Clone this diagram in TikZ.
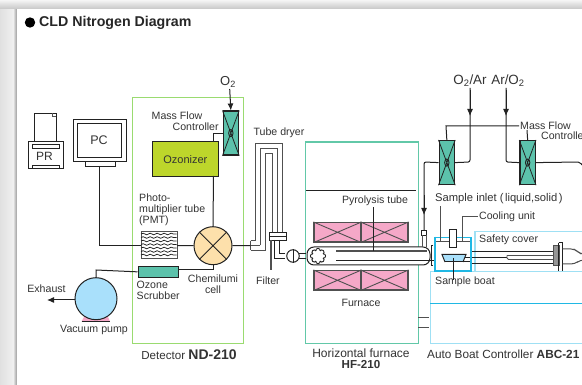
\documentclass[tikz,border=0pt]{standalone}
\usepackage{fontspec}
\setmainfont{Liberation Sans}
\usetikzlibrary{arrows.meta,decorations.pathmorphing,calc}
\definecolor{tealf}{HTML}{5CC2AB}
\definecolor{ozf}{HTML}{BDD62B}
\definecolor{cellf}{HTML}{FDE0AB}
\definecolor{skyf}{HTML}{A9E0FB}
\definecolor{pinkf}{HTML}{F5A8C8}
\definecolor{dline}{HTML}{222222}
\definecolor{gline}{HTML}{505050}
\definecolor{greenb}{HTML}{9ADB70}
\definecolor{tealb}{HTML}{62C8A8}
\definecolor{lblue}{HTML}{9FE0F4}
\definecolor{mblue}{HTML}{20B8E4}
\definecolor{txt}{HTML}{333333}
\tikzset{
 wire/.style={draw=dline,line width=1pt},
 wireg/.style={draw=gline,line width=1pt},
 arr/.style={wire,-{Latex[length=7pt,width=6pt]}},
 lab/.style={font=\fontsize{10.6}{10.8}\selectfont,text=txt,inner sep=0pt,align=center},
 labl/.style={lab,anchor=west,align=left},
 boxd/.style={draw=dline,line width=1pt,fill=white,inner sep=0pt},
 mfcbox/.style={draw=dline,line width=1.2pt,fill=tealf,minimum width=15.5pt,minimum height=44pt,inner sep=0pt},
 heatbox/.style={draw=gline,line width=1.2pt,fill=pinkf,minimum width=47pt,minimum height=19.5pt,inner sep=0pt},
}
\newcommand{\valvecross}[1]{%
 \draw[dline,line width=0.8pt] (#1.north west)--(#1.south east) (#1.north east)--(#1.south west);
 \draw[dline,line width=0.9pt] (#1.center) ellipse (2.2pt and 3.6pt);}
\newcommand{\heatcross}[1]{%
 \draw[gline,line width=0.9pt] (#1.north west)--(#1.south east) (#1.north east)--(#1.south west);}
\begin{document}
\begin{tikzpicture}[x=1pt,y=-1pt]
\useasboundingbox (0,0) rectangle (582,385);
% page background
\fill[white] (0,0) rectangle (582,385);
\shade[left color=white!88!black,right color=white!94!black] (0,0) rectangle (13,385);
\shade[left color=white!94!black,right color=white!60!black] (13,9) rectangle (17,385);
\shade[top color=white!96!black,bottom color=white!78!black] (0,0) rectangle (582,9);
\fill[white] (17,9) rectangle (582,385);
% title
\fill[black] (30,22.5) circle (5.2);
\node[anchor=west,inner sep=0pt,font=\fontsize{14.2}{15}\selectfont\bfseries,text=black!85] (title) at (39,23) {CLD Nitrogen Diagram};
% frames
\node[draw=greenb,line width=1.4pt,minimum width=111pt,minimum height=246pt,inner sep=0pt,anchor=north west] (det) at (132,97) {};
\node[draw=tealb,line width=1.4pt,minimum width=113pt,minimum height=201.5pt,inner sep=0pt,anchor=north west] (furn) at (304.5,141.5) {};
\draw[dline,line width=0.9pt] (306,190)--(416,190);
% PR
\node[boxd,minimum width=21.5pt,minimum height=29pt,anchor=north west] (paper) at (34,113.5) {};
\node[boxd,minimum width=35pt,minimum height=27pt,anchor=north west] (pr) at (27.5,141.5) {};
\node[lab,font=\fontsize{12}{13}\selectfont] (prt) at (44.5,156.5) {PR};
\node[boxd,minimum width=27pt,minimum height=3.5pt,anchor=north west] (prs1) at (31.5,144.5) {};
\node[boxd,minimum width=27pt,minimum height=3.5pt,anchor=north west] (prs2) at (31.5,165) {};
\draw[gline,line width=0.6pt] (52.5,113.5)--(52.5,116.5)--(55.5,116.5);
% PC
\node[boxd,minimum width=30pt,minimum height=5.5pt,anchor=north west] (pcb) at (84.5,161) {};
\node[boxd,minimum width=52.5pt,minimum height=42pt,anchor=north west] (pc) at (73,119) {};
\node[boxd,minimum width=44pt,minimum height=34pt,anchor=north west] (pci) at (77,123.5) {};
\node[lab,font=\fontsize{12.5}{14}\selectfont] (pct) at (99,140) {PC};
% ozonizer
\node[draw=dline,line width=1.2pt,fill=ozf,minimum width=65.5pt,minimum height=35pt,inner sep=0pt,anchor=north west,font=\fontsize{11}{12}\selectfont,text=txt] (oz) at (152,141) {Ozonizer};
% MFC detector
\node[mfcbox,anchor=north west] (m0) at (222.5,110.5) {};
\valvecross{m0}
\node[lab,font=\fontsize{13}{14}\selectfont] (o2) at (228,82) {O\textsubscript{2}};
\coordinate (o2b) at (229.7,89);
\draw[arr] (o2b)--(m0.north);
\draw[wire] (213.5,141)--(213.5,133.5)--(222.5,133.5);
\node[labl] (mfl1) at (151.5,116) {Mass Flow};
\node[labl] (mfl2) at (172.5,126.5) {Controller};
% cell
\node[circle,draw=dline,line width=1pt,fill=cellf,minimum size=38pt,inner sep=0pt] (cell) at (213,245.7) {};
\draw[dline,line width=0.9pt] (cell.north west)--(cell.south east) (cell.north east)--(cell.south west);
\draw[wire] (213.5,176)--(cell.north);
% PMT
\node[draw=gline,line width=1.3pt,fill=white,minimum width=36.5pt,minimum height=27.5pt,inner sep=0pt,anchor=north west] (pmt) at (140.5,230.7) {};
\foreach \yy in {234,237.5,241,244.5,248,251.5,255}{
 \draw[dline,line width=0.75pt,decorate,decoration={snake,amplitude=0.8pt,segment length=7pt}] (141,\yy)--(176.5,\yy);}
\draw[wire] (99.5,166)--(99.5,245.5)--(140.5,245.5);
\draw[wire] (177,245.5)--(cell.west);
\node[labl,align=left] (pmtl) at (139,210) {Photo-\\multiplier tube\\(PMT)};
% scrubber
\node[draw=dline,line width=1pt,fill=tealf,minimum width=40pt,minimum height=11.3pt,inner sep=0pt,anchor=north west] (scr) at (137.5,265.7) {};
\draw[wire] (213.5,264.7)--(213.5,270)--(177.5,270);
\node[labl] (scrl) at (136.5,290.5) {Ozone\\Scrubber};
\node[lab] (celll) at (213,284) {Chemilumi\\cell};
% pump
\fill[pinkf] (84,317)--(108,317)--(110,321.5)--(81.5,321.5)--cycle;
\draw[dline,line width=0.9pt] (81.5,321.5)--(110,321.5);
\node[circle,draw=dline,line width=1pt,fill=skyf,minimum size=42pt,inner sep=0pt] (pump) at (96,298.7) {};
\draw[wire] (scr.west)--(96,270)--(pump.north);
\coordinate (exh) at (47,300);
\draw[arr] (75,300)--(exh);
\node[lab] (exl) at (46.5,288.5) {Exhaust};
\node[lab] (vpl) at (94,329.5) {Vacuum pump};
\node[lab,font=\fontsize{11.6}{12}\selectfont] (detl) at (189,354.5) {Detector {\fontsize{14}{15}\selectfont\bfseries ND-210}};
% dryer
\node[lab] (tdl) at (279,133) {Tube dryer};
\draw[gline,line width=1pt] (250.5,240.7)--(255,240.7)--(255,143.5)--(282,143.5)--(282,232);
\draw[gline,line width=1pt] (260,245.5)--(260,148.5)--(277,148.5)--(277,232);
\draw[gline,line width=1pt] (250.5,250.5)--(265,250.5)--(265,153.5)--(272,153.5)--(272,232);
\draw[gline,line width=1pt] (250.5,240.7)--(250.5,250.5);
\draw[wire] (cell.east)--(250.5,245.5);
\draw[gline,line width=1pt] (250.5,245.5)--(260,245.5);
\node[draw=dline,line width=1pt,fill=white,minimum width=16.5pt,minimum height=8pt,inner sep=0pt,anchor=north west] (filt) at (269,232) {};
\draw[dline,line width=0.8pt] (filt.west)--(filt.east);
\draw[gline,line width=1.1pt] (271,240)--(271,270);
\node[lab] (fil) at (268,281) {Filter};
% tube in furnace
\draw[dline,line width=1pt] (274.5,240)--(274.5,258.5)--(285,258.5);
\draw[dline,line width=1pt] (279.5,240)--(279.5,253.5)--(285,253.5);
\node[circle,draw=dline,line width=1pt,fill=white,minimum size=12.5pt,inner sep=0pt] (bulb) at (293,256) {};
\draw[dline,line width=0.8pt] (bulb.north)--(bulb.south);
\draw[dline,line width=1pt] (299,253.5)--(306,253.5) (299,258.5)--(306,258.5);
\draw[dline,line width=1pt,fill=white,rounded corners=7pt] (307,247)--(430,247)--(430,265)--(307,265)--cycle;
\foreach \a in {0,45,...,315}{\draw[dline,line width=0.9pt] (318,256)++(\a:5.3) circle (2.3);}
\fill[white] (318,256) circle (5.6);
\foreach \a in {0,45,...,315}{\fill[white] (318,256)++(\a:4.6) circle (1.7);}
\draw[gline,line width=1.2pt] (336,251)--(427,251);
\draw[dline,line width=1pt] (336,260.5)--(436,260.5);
% heaters
\foreach \nm/\xx/\yy in {h1/337.5/232.3,h2/384.5/232.3,h3/337.5/280.3,h4/384.5/280.3}{
 \node[heatbox] (\nm) at (\xx,\yy) {};
 \heatcross{\nm}
}
\node[lab] (pyl) at (375,200.5) {Pyrolysis tube};
\draw[dline,line width=1pt] (373,207.5)--(373,251);
\node[lab] (fnl) at (361,302.5) {Furnace};
\node[lab,font=\fontsize{12}{13}\selectfont] (hfl) at (361,353.5) {Horizontal furnace};
\node[lab,font=\fontsize{11.6}{12}\selectfont\bfseries] (hfm) at (361,365) {HF-210};
% auto boat controller frames
\node[draw=lblue,line width=1.4pt,fill=white,minimum width=110pt,minimum height=40.3pt,inner sep=0pt,anchor=north west] (safe) at (474.3,230.7) {};
\node[labl] (sfl) at (479,240) {Safety cover};
\draw[dline,line width=1pt] (471,251.7)--(553,251.7);
\draw[dline,line width=1pt] (471,257.3)--(507,257.3);
\draw[dline,line width=1pt] (471,264)--(553,264);
\draw[gline,line width=0.8pt,rounded corners=1.5pt] (507,255.5)--(553,255.5) (507,255.5)--(507,259.5)--(553,259.5);
\node[draw=gline,line width=1pt,fill=gline!60,minimum width=5.5pt,minimum height=20.5pt,inner sep=0pt,anchor=north west] (fl1) at (553,245) {};
\draw[dline,line width=1pt] (558.5,243)--(562.5,243)--(562.5,271) (558.5,243)--(558.5,271);
\draw[gline,line width=1pt,rounded corners=4pt] (562.5,249)--(575,249)--(580,254)--(582,254);
\draw[gline,line width=1pt,rounded corners=4pt] (562.5,264)--(575,264)--(580,260)--(582,260);
\node[draw=mblue,line width=1.2pt,fill=white,minimum width=36pt,minimum height=34.3pt,inner sep=0pt,anchor=north west] (inl) at (435,236.7) {};
\draw[gline,line width=1pt] (436,241.7)--(471,241.7);
\draw[dline,line width=1pt] (433,245.5)--(431.5,245.5)--(431.5,266)--(433,266);
\node[draw=dline,line width=1pt,fill=white,minimum width=6.5pt,minimum height=18pt,inner sep=0pt,anchor=north west] (cool) at (449,229) {};
\fill[skyf] (442,254.5)--(466,254.5)--(463,262)--(445,262)--cycle;
\draw[dline,line width=1pt] (445,262)--(442,254.5)--(466,254.5)--(463,262);
\draw[dline,line width=1pt] (445,262)--(471,262)--(471,257.3)--(465,257.3);
\node[draw=lblue,line width=1.4pt,fill=white,minimum width=155pt,minimum height=72pt,inner sep=0pt,anchor=north west] (abc) at (429.5,271) {};
\draw[mblue,line width=1pt] (430,303.5)--(582,303.5);
\draw[mblue,line width=1.2pt] (435,236.7)--(435,271)--(471,271)--(471,236.7);
\draw[dline,line width=1pt] (453,258)--(453,280);
\node[labl] (sbl) at (435,282) {Sample boat};
\draw[gline,line width=1pt] (418,318)--(429,318) (418,328)--(429,328);
\node[lab,font=\fontsize{11.8}{13}\selectfont,anchor=west] (abl) at (427,354) {Auto Boat Controller {\bfseries ABC-21}};
% inlet
\node[mfcbox,anchor=north west] (m1) at (438.5,140) {};
\valvecross{m1}
\node[mfcbox,anchor=north west] (m2) at (519.3,140) {};
\valvecross{m2}
\node[draw=dline,line width=0.8pt,fill=white,minimum width=5pt,minimum height=5pt,inner sep=0pt] (inport) at (424,233) {};
\draw[gline,line width=0.8pt] (422,235.5)--(422,247) (426,235.5)--(426,247);
\draw[wire,rounded corners=2pt] (m1.west)--(424,162)--(424,230.5);
\draw[arr] (424,195)--(424,215);
\node[lab,font=\fontsize{13.4}{14}\selectfont] (ar1) at (470,81) {O\textsubscript{2}/Ar};
\node[lab,font=\fontsize{13.4}{14}\selectfont] (ar2) at (508,81) {Ar/O\textsubscript{2}};
\draw[wire,rounded corners=2pt] (470,88)--(470,162)--(m1.east);
\draw[wire,rounded corners=2pt] (506,88)--(506,162)--(m2.west);
\draw[arr] (470,90)--(470,116);
\draw[arr] (506,90)--(506,116);
\draw[wire] (m1.north)--(446,126)--(519,126);
\draw[wire] (527,130)--(m2.north);
\draw[wire,rounded corners=2pt] (m2.east)--(580,162)--(582,165);
\node[labl] (mfr1) at (520,126) {Mass Flow};
\node[labl] (mfr2) at (541,136) {Controller};
\node[labl,font=\fontsize{11.2}{12}\selectfont] (sil) at (435,199) {Sample inlet\hspace{3pt}(\hspace{1.5pt}liquid,solid\hspace{1.5pt})};
\draw[gline,line width=1pt] (440,206.5)--(440,241.7);
\draw[gline,line width=1pt] (462.3,241)--(462.3,216.7)--(478,216.7);
\node[labl] (cul) at (479,216.7) {Cooling unit};
\end{tikzpicture}
\end{document}
